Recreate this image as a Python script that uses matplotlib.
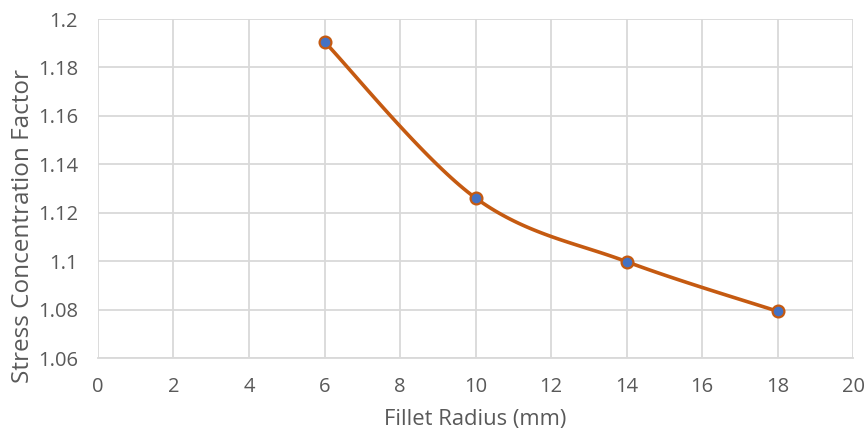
import numpy as np
import matplotlib
matplotlib.use("Agg")
import matplotlib.pyplot as plt
from matplotlib.ticker import FuncFormatter

radius = [6, 10, 14, 18]
scf = [1.1906, 1.1261, 1.0998, 1.0793]

line_col = "#C55A11"
dot_col = "#4472C4"
grid_col = "#D9D9D9"
text_col = "#595959"

plt.rcParams['font.family'] = ['Open Sans', 'DejaVu Sans']


def smooth(xs, ys, n=40):
	# catmull-rom through the points, like the spreadsheet's smoothed line
	px = [xs[0]] + list(xs) + [xs[-1]]
	py = [ys[0]] + list(ys) + [ys[-1]]
	ox, oy = [], []
	for k in range(1, len(px) - 2):
		p0 = np.array([px[k - 1], py[k - 1]])
		p1 = np.array([px[k], py[k]])
		p2 = np.array([px[k + 1], py[k + 1]])
		p3 = np.array([px[k + 2], py[k + 2]])
		c1 = p1 + (p2 - p0) / 6
		c2 = p2 - (p3 - p1) / 6
		t = np.linspace(0, 1, n)[:, None]
		b = (1 - t) ** 3 * p1 + 3 * (1 - t) ** 2 * t * c1 + 3 * (1 - t) * t ** 2 * c2 + t ** 3 * p2
		ox += list(b[:, 0])
		oy += list(b[:, 1])
	return ox, oy


fig = plt.figure(figsize=(8.67, 4.38), dpi=100)
ax = fig.add_axes([0.113, 0.1826, 0.871, 0.774])

sx, sy = smooth(radius, scf)
ax.plot(sx, sy, color=line_col, lw=2.6, solid_capstyle='round', zorder=3)
ax.plot(radius, scf, 'o', ms=8.5, mfc=dot_col, mec=line_col, mew=1.6, zorder=4)

ax.set_xlim(0, 20)
ax.set_ylim(1.06, 1.2)
ax.set_xticks(np.arange(0, 21, 2))
ax.set_yticks(np.arange(1.06, 1.2001, 0.02))
ax.yaxis.set_major_formatter(FuncFormatter(lambda v, p: ("%.2f" % v).rstrip('0').rstrip('.')))

ax.grid(True, color=grid_col, lw=1.3)
ax.set_axisbelow(True)
for s in ['top', 'right', 'left']:
	ax.spines[s].set_visible(False)
ax.spines['bottom'].set_color(grid_col)
ax.spines['bottom'].set_linewidth(1.3)
ax.tick_params(axis='y', length=0, labelsize=14.5, colors=text_col, pad=14.5)
ax.tick_params(axis='x', length=0, labelsize=14.5, colors=text_col, pad=14)

ax.set_xlabel("Fillet Radius (mm)", fontsize=15.8, color=text_col)
ax.set_ylabel("Stress Concentration Factor", fontsize=17.5, color=text_col)
ax.xaxis.set_label_coords(0.5, -0.15)
ax.yaxis.set_label_coords(-0.084, 0.39)

fig.savefig("out.png", dpi=100)
